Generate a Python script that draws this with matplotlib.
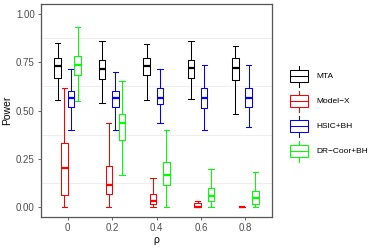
import matplotlib
matplotlib.use("Agg")
import matplotlib.pyplot as plt
from matplotlib.patches import Rectangle
import numpy as np

plt.rcParams['font.family'] = ['Liberation Sans', 'DejaVu Sans']

rho_labels = ["0", "0.2", "0.4", "0.6", "0.8"]
methods = ["MTA", "Model\u2212X", "HSIC+BH", "DR\u2212Coor+BH"]
colors = ["#000000", "#FF0000", "#0000FF", "#00FF00"]

# five-number summaries per method: [rho0, rho0.2, rho0.4, rho0.6, rho0.8]
mta_low = [0.555, 0.54, 0.555, 0.558, 0.48]
mta_q1 = [0.67, 0.665, 0.683, 0.67, 0.658]
mta_med = [0.73, 0.715, 0.73, 0.717, 0.722]
mta_q3 = [0.773, 0.76, 0.773, 0.76, 0.773]
mta_high = [0.847, 0.86, 0.845, 0.861, 0.832]

mx_low = [0.0, 0.0, 0.0, 0.0, 0.0]
mx_q1 = [0.063, 0.067, 0.017, 0.0, 0.0]
mx_med = [0.205, 0.117, 0.033, 0.0, 0.0]
mx_q3 = [0.333, 0.215, 0.067, 0.02, 0.0]
mx_high = [0.615, 0.433, 0.15, 0.035, 0.0]

hs_low = [0.40, 0.40, 0.433, 0.40, 0.417]
hs_q1 = [0.517, 0.517, 0.533, 0.515, 0.517]
hs_med = [0.567, 0.567, 0.567, 0.567, 0.567]
hs_q3 = [0.60, 0.60, 0.617, 0.618, 0.617]
hs_high = [0.715, 0.70, 0.715, 0.735, 0.735]

dr_low = [0.55, 0.167, 0.0, 0.0, 0.0]
dr_q1 = [0.683, 0.35, 0.117, 0.033, 0.019]
dr_med = [0.733, 0.433, 0.167, 0.058, 0.046]
dr_q3 = [0.78, 0.483, 0.233, 0.098, 0.084]
dr_high = [0.93, 0.65, 0.40, 0.20, 0.182]

summaries = [
    (mta_low, mta_q1, mta_med, mta_q3, mta_high),
    (mx_low, mx_q1, mx_med, mx_q3, mx_high),
    (hs_low, hs_q1, hs_med, hs_q3, hs_high),
    (dr_low, dr_q1, dr_med, dr_q3, dr_high),
]

W, H = 374, 249
fig = plt.figure(figsize=(W / 100, H / 100), dpi=100)
ax = fig.add_axes([41 / W, 1 - 217 / H, (272 - 41) / W, (217 - 4) / H])

ax.set_xlim(-0.6, 4.6)
ax.set_ylim(-0.05, 1.05)

for yv in [0.125, 0.375, 0.625, 0.875]:
    ax.axhline(yv, color="#EBEBEB", lw=0.6, zorder=0)

offsets = [-0.225, -0.075, 0.075, 0.225]
bw = 0.145
lw = 0.75
for mi, (lo, q1, med, q3, hi) in enumerate(summaries):
    stats = []
    for g in range(len(rho_labels)):
        stats.append(dict(whislo=lo[g], q1=q1[g], med=med[g], q3=q3[g], whishi=hi[g], fliers=[]))
    pos = [g + offsets[mi] for g in range(len(rho_labels))]
    c = colors[mi]
    ax.bxp(stats, positions=pos, widths=bw, capwidths=bw * 0.85, showfliers=False,
           boxprops=dict(color=c, lw=lw),
           whiskerprops=dict(color=c, lw=lw),
           capprops=dict(color=c, lw=lw),
           medianprops=dict(color=c, lw=1.6, solid_capstyle="butt"),
           manage_ticks=False)

ax.set_xticks(range(len(rho_labels)))
ax.set_xticklabels(rho_labels)
ax.set_yticks([0, 0.25, 0.5, 0.75, 1.0])
ax.set_yticklabels(["0.00", "0.25", "0.50", "0.75", "1.00"])
ax.tick_params(axis="both", labelsize=7, colors="#4D4D4D", length=2.5, width=0.6, pad=2)
for s in ax.spines.values():
    s.set_color("#555555")
    s.set_linewidth(0.9)
ax.set_xlabel("\u03c1", fontsize=7.5, labelpad=1)
ax.set_ylabel("Power", fontsize=7.5, labelpad=3)

# legend drawn in pixel coordinates
lax = fig.add_axes([0, 0, 1, 1])
lax.set_xlim(0, W)
lax.set_ylim(H, 0)
lax.axis("off")
key_y = [76, 101, 126, 151]
for mi, name in enumerate(methods):
    c = colors[mi]
    cy = key_y[mi]
    lax.add_patch(Rectangle((290, cy - 6.3), 18.5, 12.6, fill=False, ec=c, lw=lw))
    lax.plot([290, 308.5], [cy, cy], color=c, lw=lw)
    lax.plot([299.25, 299.25], [cy - 10.5, cy - 6.3], color=c, lw=lw)
    lax.plot([299.25, 299.25], [cy + 6.3, cy + 10.5], color=c, lw=lw)
    lax.text(316.5, cy, name, fontsize=6, va="center", ha="left", color="#000000")

fig.savefig("out.png", dpi=100)
